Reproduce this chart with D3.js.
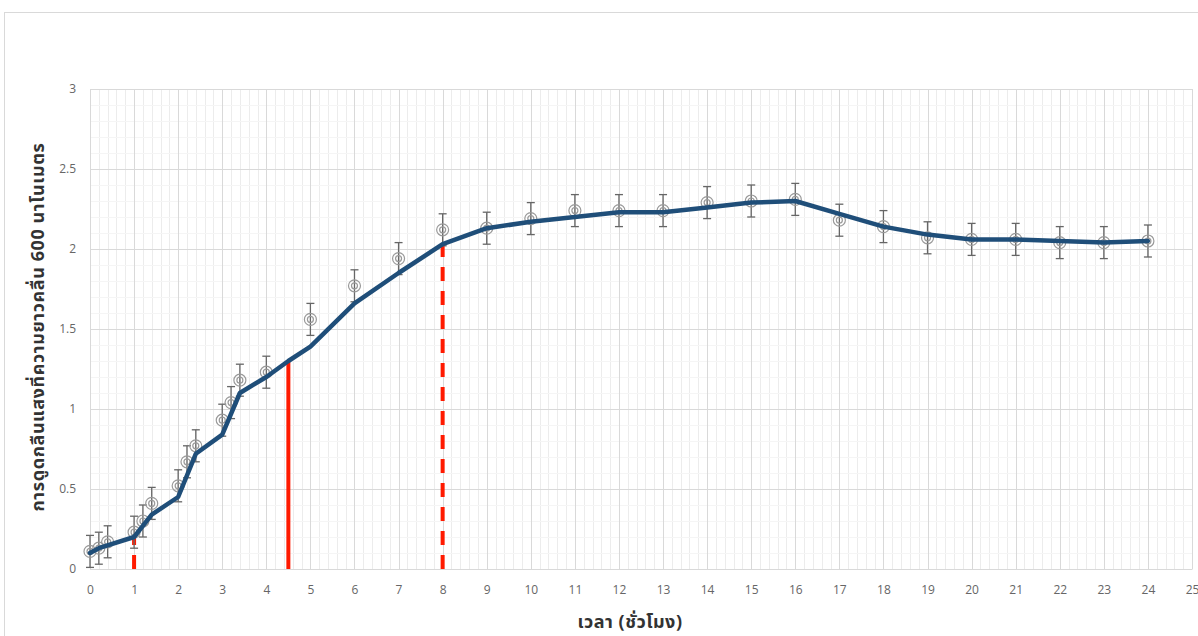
<!DOCTYPE html>
<html>
<head>
<meta charset="utf-8">
<script src="https://cdn.jsdelivr.net/npm/d3@7"></script>
<style>
body { margin: 0; background: #fff; }
svg { display: block; }
</style>
</head>
<body>
<div id="chart"></div>
<script>
// measured points with error bars
var hours = [0, 0.2, 0.4, 1, 1.2, 1.4, 2, 2.2, 2.4, 3, 3.2, 3.4, 4, 5, 6, 7, 8, 9, 10, 11, 12, 13, 14, 15, 16, 17, 18, 19, 20, 21, 22, 23, 24];
var absorb = [0.11, 0.13, 0.17, 0.23, 0.30, 0.41, 0.52, 0.67, 0.77, 0.93, 1.04, 1.18, 1.23, 1.56, 1.77, 1.94, 2.12, 2.13, 2.19, 2.24, 2.24, 2.24, 2.29, 2.30, 2.31, 2.18, 2.14, 2.07, 2.06, 2.06, 2.04, 2.04, 2.05];
var errs = [0.1, 0.1, 0.1, 0.1, 0.1, 0.1, 0.1, 0.1, 0.1, 0.1, 0.1, 0.1, 0.1, 0.1, 0.1, 0.1, 0.1, 0.1, 0.1, 0.1, 0.1, 0.1, 0.1, 0.1, 0.1, 0.1, 0.1, 0.1, 0.1, 0.1, 0.1, 0.1, 0.1];

// fitted curve
var fitX = [0, 0.2, 1, 1.4, 2, 2.4, 3, 3.4, 4, 4.5, 5, 6, 7, 8, 9, 10, 11, 12, 13, 14, 15, 16, 17, 18, 19, 20, 21, 22, 23, 24];
var fitY = [0.1, 0.13, 0.2, 0.34, 0.45, 0.72, 0.84, 1.1, 1.2, 1.3, 1.39, 1.66, 1.85, 2.03, 2.13, 2.17, 2.2, 2.23, 2.23, 2.26, 2.29, 2.3, 2.22, 2.14, 2.09, 2.06, 2.06, 2.05, 2.04, 2.05];

// red marker lines: x, top, dashed
var markX = [1, 4.5, 8];
var markTop = [0.2, 1.3, 2.03];
var markDash = [true, false, true];

var xTicks = d3.range(0, 26);
var yTicks = [0, 0.5, 1, 1.5, 2, 2.5, 3];

var W = 1198, H = 636;
var svg = d3.select("#chart").append("svg")
	.attr("width", W)
	.attr("height", H);

// chart frame
svg.append("rect")
	.attr("x", 4.5).attr("y", 12.5)
	.attr("width", 1210).attr("height", 640)
	.attr("fill", "#fff")
	.attr("stroke", "#d9d9d9");

var x = d3.scaleLinear().domain([0, 25]).range([90, 1192]);
var y = d3.scaleLinear().domain([0, 3]).range([569, 89]);

var grid = svg.append("g");
// minor grid
grid.selectAll(".minorV")
	.data(d3.range(0, 125).map(function(i){ return i / 5; }).filter(function(v){ return v % 1 !== 0; }))
	.enter().append("line")
	.attr("x1", d => Math.round(x(d)) + 0.5).attr("x2", d => Math.round(x(d)) + 0.5)
	.attr("y1", y(3)).attr("y2", y(0))
	.attr("stroke", "#ececec");
grid.selectAll(".minorH")
	.data(d3.range(1, 30).map(function(i){ return i / 10; }).filter(function(v, i){ return (i + 1) % 5 !== 0; }))
	.enter().append("line")
	.attr("x1", x(0)).attr("x2", x(25))
	.attr("y1", d => Math.round(y(d)) + 0.5).attr("y2", d => Math.round(y(d)) + 0.5)
	.attr("stroke", "#f5f5f5");
// major grid
grid.selectAll(".majorV")
	.data(xTicks)
	.enter().append("line")
	.attr("x1", d => Math.round(x(d)) + 0.5).attr("x2", d => Math.round(x(d)) + 0.5)
	.attr("y1", y(3)).attr("y2", y(0))
	.attr("stroke", "#d9d9d9");
grid.selectAll(".majorH")
	.data(yTicks)
	.enter().append("line")
	.attr("x1", x(0)).attr("x2", x(25))
	.attr("y1", d => Math.round(y(d)) + 0.5).attr("y2", d => Math.round(y(d)) + 0.5)
	.attr("stroke", "#d9d9d9");

// axes
var xAxis = svg.append("g")
	.attr("transform", "translate(0," + y(0) + ")")
	.call(d3.axisBottom(x).tickValues(xTicks).tickSize(0).tickPadding(16).tickFormat(d3.format("d")));
var yAxis = svg.append("g")
	.attr("transform", "translate(" + x(0) + ",0)")
	.call(d3.axisLeft(y).tickValues(yTicks).tickSize(0).tickPadding(14).tickFormat(d => d));
[xAxis, yAxis].forEach(function(a){
	a.select(".domain").attr("stroke", "#d9d9d9");
	a.selectAll("text")
		.attr("fill", "#666")
		.style("font-family", "'Open Sans', 'Liberation Sans', sans-serif")
		.style("font-size", "12px");
});

// red reference lines
svg.selectAll(".mark")
	.data(markX)
	.enter().append("line")
	.attr("x1", d => x(d)).attr("x2", d => x(d))
	.attr("y1", y(0)).attr("y2", (d, i) => y(markTop[i]))
	.attr("stroke", "#ff1a00")
	.attr("stroke-width", 4)
	.attr("stroke-dasharray", (d, i) => markDash[i] ? "14,10" : null);

// error bars
var pts = hours.map(function(h, i){ return {x: h, y: absorb[i], e: errs[i]}; });
var eb = svg.append("g").attr("stroke", "#666").attr("stroke-width", 1.3);
eb.selectAll(".ev").data(pts).enter().append("line")
	.attr("x1", d => x(d.x)).attr("x2", d => x(d.x))
	.attr("y1", d => y(d.y - d.e)).attr("y2", d => y(d.y + d.e));
eb.selectAll(".et").data(pts).enter().append("line")
	.attr("x1", d => x(d.x) - 4).attr("x2", d => x(d.x) + 4)
	.attr("y1", d => y(d.y + d.e)).attr("y2", d => y(d.y + d.e));
eb.selectAll(".eb").data(pts).enter().append("line")
	.attr("x1", d => x(d.x) - 4).attr("x2", d => x(d.x) + 4)
	.attr("y1", d => y(d.y - d.e)).attr("y2", d => y(d.y - d.e));

// markers (double circle)
var mk = svg.append("g").attr("fill", "none").attr("stroke", "#9a9a9a").attr("stroke-width", 1.2);
mk.selectAll(".mo").data(pts).enter().append("circle")
	.attr("cx", d => x(d.x)).attr("cy", d => y(d.y)).attr("r", 6);
mk.selectAll(".mi").data(pts).enter().append("circle")
	.attr("cx", d => x(d.x)).attr("cy", d => y(d.y)).attr("r", 3);

// fitted line
var fit = fitX.map(function(v, i){ return [v, fitY[i]]; });
var line = d3.line()
	.x(d => x(d[0]))
	.y(d => y(d[1]));
svg.append("path")
	.attr("d", line(fit))
	.attr("fill", "none")
	.attr("stroke", "#1f4e79")
	.attr("stroke-width", 4.5)
	.attr("stroke-linejoin", "round")
	.attr("stroke-linecap", "round");

// axis titles
var thaiFont = "'Noto Sans Thai', 'Noto Sans', Tahoma, 'DejaVu Sans', sans-serif";
svg.append("text")
	.attr("x", 630).attr("y", 628)
	.attr("text-anchor", "middle")
	.attr("fill", "#333")
	.style("font-family", thaiFont)
	.style("font-size", "18px")
	.style("letter-spacing", "0.5px")
	.style("font-weight", "bold")
	.text("เวลา (ชั่วโมง)");
svg.append("text")
	.attr("transform", "translate(44,327) rotate(-90)")
	.attr("text-anchor", "middle")
	.attr("fill", "#333")
	.style("font-family", thaiFont)
	.style("font-size", "18px")
	.style("letter-spacing", "0.6px")
	.style("font-weight", "bold")
	.text("การดูดกลืนแสงที่ความยาวคลื่น 600 นาโนเมตร");
</script>
</body>
</html>
